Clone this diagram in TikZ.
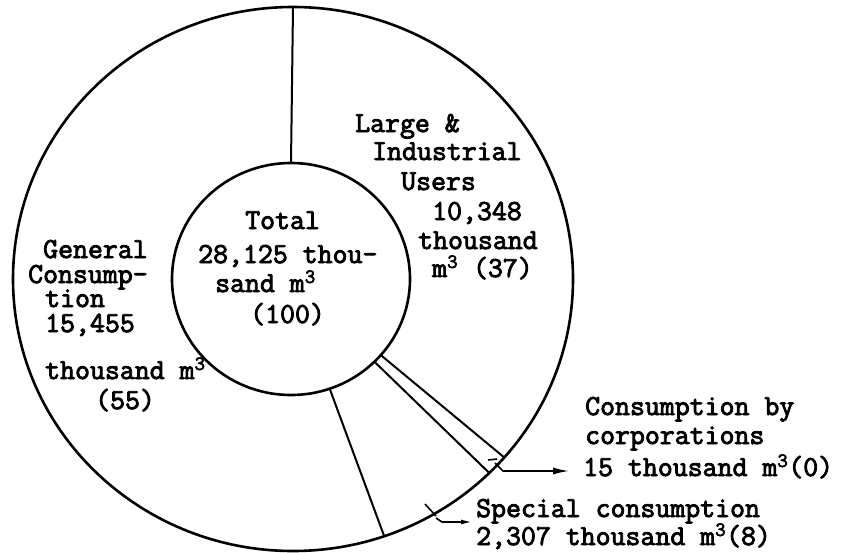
\documentclass[tikz,border=0pt]{standalone}
\usepackage{fontspec}
\newfontfamily\tw{Latin Modern Mono}[FakeBold=3]
\usetikzlibrary{arrows.meta}
\begin{document}
\begin{tikzpicture}[x=1pt,y=-1pt,
  lbl/.style={anchor=base west, inner sep=0pt, font=\tw\fontsize{29}{33}\selectfont},
  ring/.style={line width=2.6pt},
  divider/.style={line width=2.0pt},
  leader/.style={line width=1.6pt},
  tip/.style={-{Latex[length=16pt,width=7pt]}},
  smalltip/.style={-{Latex[length=11pt,width=5pt]}}]
\useasboundingbox (0,0) rectangle (852,552);
% rings
\coordinate (O) at (293,279);
\coordinate (I) at (291,279);
\draw[ring] (O) ellipse [x radius=280pt, y radius=272pt];
\draw[ring] (I) ellipse [x radius=119pt, y radius=116pt];
% dividers
\coordinate (i1) at (291,163);   \coordinate (o1) at (293,7);
\coordinate (i2) at (380.8,355.1); \coordinate (o2) at (504.3,457.5);
\coordinate (i3) at (374.4,361.7); \coordinate (o3) at (489.3,473.0);
\coordinate (i4) at (329.7,388.7); \coordinate (o4) at (384.2,536.2);
\draw[divider] (i1) -- (o1);
\draw[divider] (i2) -- (o2);
\draw[divider] (i3) -- (o3);
\draw[divider] (i4) -- (o4);
% labels: centre
\node[lbl] (tot1) at (245,229) {Total};
\node[lbl] (tot2) at (198,263) {28,125 thou-};
\node[lbl] (tot3) at (215,292) {sand m\textsuperscript{3}};
\node[lbl] (tot4) at (250,323) {(100)};
% labels: general
\node[lbl] (g1) at (43,258) {General};
\node[lbl] (g2) at (28,283) {Consump-};
\node[lbl] (g3) at (45,307) {tion};
\node[lbl] (g4) at (45,332) {15,455};
\node[lbl] (g5) at (45,379) {thousand m\textsuperscript{3}};
\node[lbl] (g6) at (95,409) {(55)};
% labels: large
\node[lbl] (l1) at (355,132) {Large \&};
\node[lbl] (l2) at (372,160) {Industrial};
\node[lbl] (l3) at (401,190) {Users};
\node[lbl] (l4) at (432,220) {10,348};
\node[lbl] (l5) at (418,249) {thousand};
\node[lbl] (l6) at (432,277) {m\textsuperscript{3} (37)};
% labels: corporations
\node[lbl] (c1) at (585,415) {Consumption by};
\node[lbl] (c2) at (585,444) {corporations};
\node[lbl] (c3) at (583,476) {15 thousand m\textsuperscript{3}(0)};
% labels: special
\node[lbl] (s1) at (476,517) {Special consumption};
\node[lbl] (s2) at (476,545) {2,307 thousand m\textsuperscript{3}(8)};
% leaders
\coordinate (ct1) at (488,460); \coordinate (ct2) at (497,459);
\coordinate (cl1) at (495,463); \coordinate (cl2) at (503,471);
\coordinate (ce) at (569,471);
\draw[leader] (ct1) -- (ct2);
\draw[leader,tip] (cl1) -- (cl2) -- (ce);
\coordinate (st1) at (425,504); \coordinate (st2) at (436,516);
\coordinate (sl1) at (436,518); \coordinate (sl2) at (442,522);
\coordinate (se) at (472,522);
\draw[leader] (st1) -- (st2);
\draw[leader,smalltip] (sl1) -- (sl2) -- (se);
\end{tikzpicture}
\end{document}
